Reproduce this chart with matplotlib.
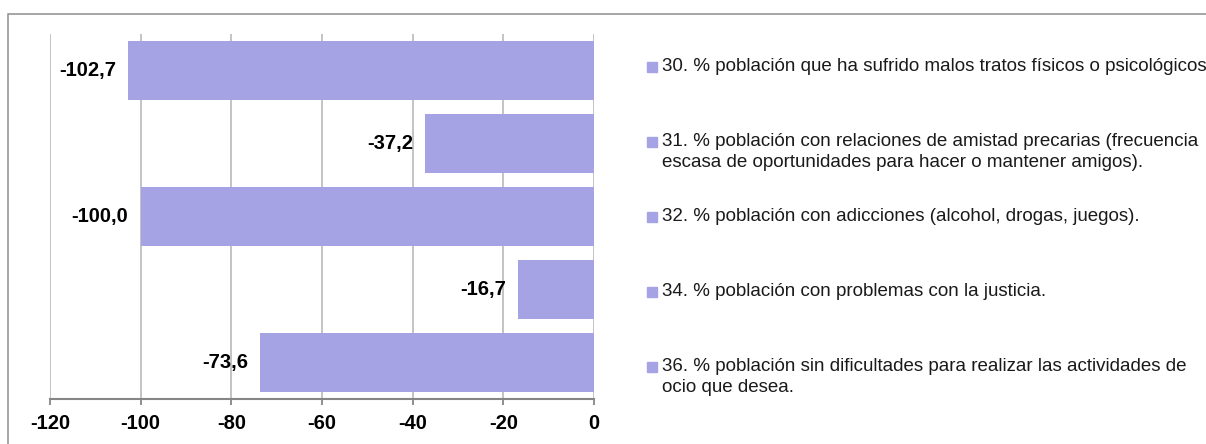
import matplotlib.pyplot as plt
from matplotlib.patches import Rectangle

plt.rcParams['font.family'] = ['Liberation Sans', 'DejaVu Sans']

# data
values = [-102.7, -37.2, -100.0, -16.7, -73.6]
labels = [
    '30. % población que ha sufrido malos tratos físicos o psicológicos',
    '31. % población con relaciones de amistad precarias (frecuencia\nescasa de oportunidades para hacer o mantener amigos).',
    '32. % población con adicciones (alcohol, drogas, juegos).',
    '34. % población con problemas con la justicia.',
    '36. % población sin dificultades para realizar las actividades de\nocio que desea.',
]
ticks = [-120, -100, -80, -60, -40, -20, 0]

bar_color = '#A5A3E3'
W, H = 1206, 444

fig = plt.figure(figsize=(W / 100, H / 100), dpi=100)
ax = fig.add_axes([50 / W, 1 - 399 / H, 544 / W, 365 / H])

pos = list(range(len(values)))
ax.barh(pos, values, height=0.8, color=bar_color, zorder=2)

for y, v in zip(pos, values):
    ax.annotate(f'{v:.1f}'.replace('.', ','), xy=(v, y), xytext=(-9, 0),
                textcoords='offset points', ha='right', va='center',
                fontsize=14.5, fontweight='bold', color='black')

ax.set_xlim(-120, 0)
ax.set_ylim(len(values) - 0.5, -0.5)
ax.set_xticks(ticks)
ax.set_xticklabels([str(t) for t in ticks], fontsize=14.5, fontweight='bold')
ax.set_yticks([])
ax.grid(axis='x', color='#BEBEBE', linewidth=1.3, zorder=0)
ax.set_axisbelow(True)
for s in ['top', 'left', 'right']:
    ax.spines[s].set_visible(False)
ax.spines['bottom'].set_color('#868686')
ax.spines['bottom'].set_linewidth(1.5)
ax.tick_params(axis='x', direction='out', length=4, width=1.3, color='#868686', pad=7)

# legend-like labels on the right
for i, lab in enumerate(labels):
    yb = 71 + 75 * i
    fig.patches.append(Rectangle((647 / W, 1 - (yb + 1) / H), 10 / W, 10 / H,
                                 transform=fig.transFigure, color=bar_color))
    for k, line in enumerate(lab.split('\n')):
        fig.text(662 / W, 1 - (yb + 21 * k) / H, line, ha='left', va='baseline',
                 fontsize=13.5, color='#1a1a1a')

# frame around chart area
fig.patches.append(Rectangle((8 / W, -0.1), 1.2, 1.1 - 14.5 / H, transform=fig.transFigure,
                             fill=False, edgecolor='#8E8E8E', linewidth=1.1))

fig.savefig('out.png', dpi=100)
